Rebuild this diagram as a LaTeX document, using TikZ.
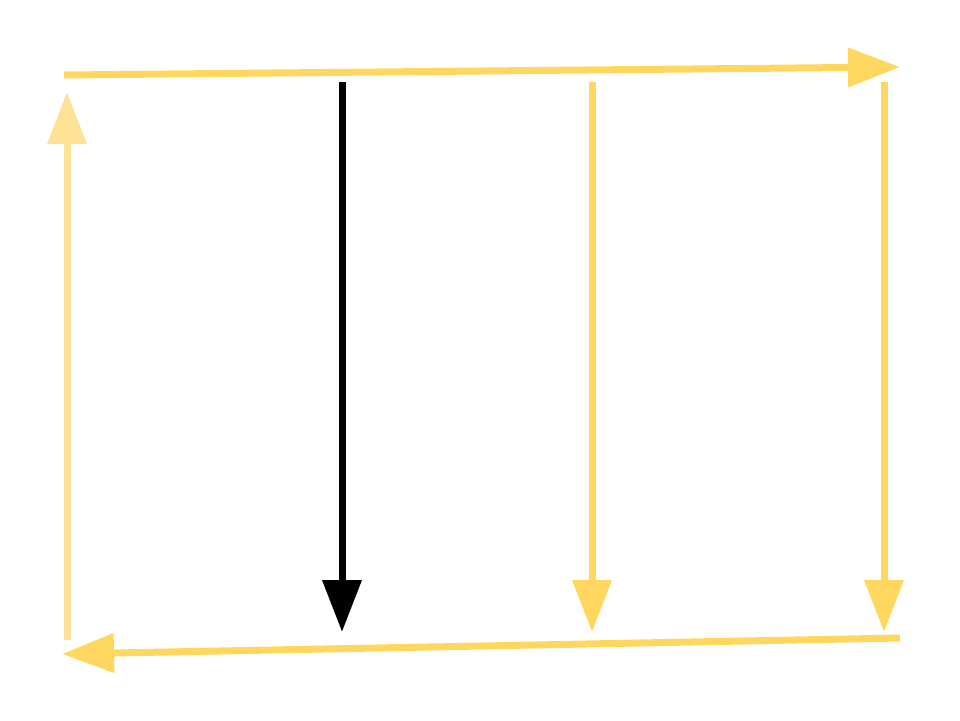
\documentclass[tikz,border=0pt]{standalone}
\usetikzlibrary{arrows.meta}
\definecolor{ylw}{HTML}{FFD75E}
\definecolor{lylw}{HTML}{FDE296}
\begin{document}
\begin{tikzpicture}[x=1pt,y=-1pt,
  arr/.style={line width=7pt,-{Triangle[length=52pt,width=38pt]}}]
\useasboundingbox (0,0) rectangle (960,720);
\coordinate (tl) at (64,75);
\coordinate (tr) at (900,67);
\coordinate (lb) at (67,640);
\coordinate (lt) at (67,92);
\coordinate (bt) at (342,82);
\coordinate (bb) at (342,632);
\coordinate (mt) at (592,82);
\coordinate (mb) at (592,632);
\coordinate (rt) at (884,82);
\coordinate (rb) at (884,632);
\coordinate (br) at (900,638);
\coordinate (bl) at (62,654);
\draw[arr,ylw] (tl) -- (tr);
\draw[arr,lylw] (lb) -- (lt);
\draw[arr,black] (bt) -- (bb);
\draw[arr,ylw] (mt) -- (mb);
\draw[arr,ylw] (rt) -- (rb);
\draw[arr,ylw] (br) -- (bl);
\end{tikzpicture}
\end{document}
